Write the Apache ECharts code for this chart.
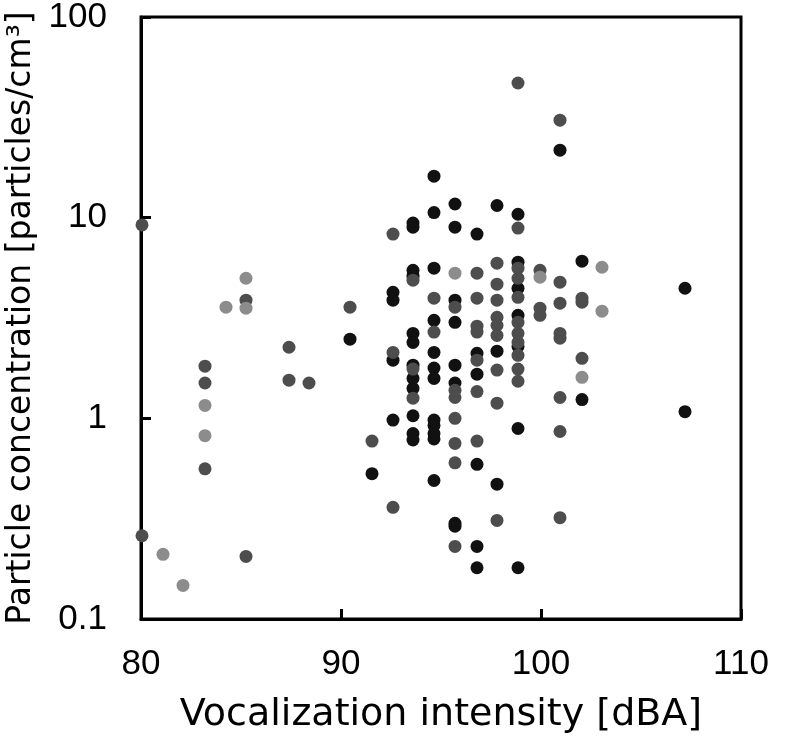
<!DOCTYPE html>
<html>
<head>
<meta charset="utf-8">
<script src="https://cdn.jsdelivr.net/npm/echarts@6/dist/echarts.min.js"></script>
<style>
html,body{margin:0;padding:0;background:#fff;}
#chart{width:799px;height:756px;}
</style>
</head>
<body>
<div id="chart"></div>
<script>
// Axis settings
var xTicks = [80, 90, 100, 110];
var yTicks = [0.1, 1, 10, 100];
var xTitle = 'Vocalization intensity [dBA]';
var yTitle = 'Particle concentration [particles/cm\u00B3]';

// Black points: [dBA, particles/cm3]
var blackX = [90.45, 91.55, 92.6, 92.6, 92.6, 92.6,
  93.6, 93.6, 93.6, 93.6, 93.6, 93.6, 93.6, 93.6, 93.6, 93.6, 93.6, 93.6,
  94.65, 94.65, 94.65, 94.65, 94.65, 94.65, 94.65, 94.65, 94.65, 94.65, 94.65, 94.65,
  95.7, 95.7, 95.7, 95.7, 95.7, 95.7, 95.7, 95.7,
  96.8, 96.8, 96.8, 96.8, 96.8, 96.8,
  97.8, 97.8, 97.8,
  98.85, 98.85, 98.85, 98.85, 98.85, 98.85, 98.85,
  100.95, 102.05, 102.05, 107.2, 107.2];
var blackY = [2.48, 0.53, 4.25, 3.88, 1.95, 0.98,
  9.4, 8.97, 5.47, 5.11, 2.65, 2.39, 1.84, 1.58, 1.41, 1.03, 0.84, 0.78,
  16.1, 10.6, 5.6, 3.08, 2.13, 1.78, 1.58, 0.98, 0.92, 0.84, 0.79, 0.49,
  11.7, 8.97, 3.88, 3.01, 1.84, 1.50, 0.30, 0.29,
  8.28, 2.11, 1.66, 0.59, 0.23, 0.18,
  11.5, 2.16, 0.47,
  10.4, 6.0, 4.45, 3.26, 2.28, 0.89, 0.18,
  21.7, 6.07, 1.24, 4.45, 1.08];

// Dark grey points
var darkX = [80.05, 80.05, 83.2, 83.2, 83.2, 85.25, 85.25, 87.4, 87.4, 88.4,
  90.45, 91.55, 92.6, 92.6, 92.6, 93.6, 93.6, 93.6,
  94.65, 94.65,
  95.7, 95.7, 95.7, 95.7, 95.7, 95.7, 95.7,
  96.8, 96.8, 96.8, 96.8, 96.8, 96.8, 96.8,
  97.8, 97.8, 97.8, 97.8, 97.8, 97.8, 97.8, 97.8, 97.8,
  98.85, 98.85, 98.85, 98.85, 98.85, 98.85, 98.85, 98.85, 98.85, 98.85, 98.85,
  99.95, 99.95, 99.95,
  100.95, 100.95, 100.95, 100.95, 100.95, 100.95, 100.95, 100.95,
  102.05, 102.05, 102.05];
var darkY = [9.2, 0.26, 1.82, 1.50, 0.56, 3.88, 0.205, 2.26, 1.55, 1.50,
  3.58, 0.77, 8.28, 2.13, 0.36, 4.88, 1.76, 1.26,
  3.97, 2.69,
  3.58, 1.38, 1.27, 1.0, 0.75, 0.60, 0.23,
  5.29, 3.97, 2.88, 2.69, 1.95, 1.36, 0.77,
  5.93, 4.66, 3.88, 3.19, 2.91, 2.59, 1.74, 1.19, 0.31,
  46.9, 8.87, 5.6, 4.99, 4.01, 3.01, 2.65, 2.39, 2.06, 1.76, 1.53,
  5.47, 3.54, 3.26,
  30.6, 4.77, 3.75, 2.65, 2.51, 1.27, 0.86, 0.32,
  3.97, 3.79, 1.99];

// Light grey points
var lightX = [81.1, 82.1, 83.2, 83.2, 84.25, 85.25, 85.25, 95.7, 99.95, 102.05, 103.05, 103.05];
var lightY = [0.21, 0.147, 1.16, 0.82, 3.58, 4.99, 3.54, 5.29, 5.05, 1.60, 5.66, 3.42];

function zip(xs, ys) { return xs.map(function (x, i) { return [x, ys[i]]; }); }

var chart = echarts.init(document.getElementById('chart'), null, {renderer: 'canvas'});
var tickFont = {color: '#000', fontSize: 35, fontFamily: 'Liberation Sans'};
chart.setOption({
  animation: false,
  backgroundColor: '#fff',
  grid: {left: 141, right: 58, top: 17, bottom: 137, outerBoundsMode: 'none', containLabel: false,
    show: true, borderColor: '#000', borderWidth: 3, backgroundColor: 'transparent'},
  xAxis: {
    type: 'value', min: xTicks[0], max: xTicks[xTicks.length - 1], interval: 10,
    name: xTitle, nameLocation: 'middle', nameGap: 77,
    nameTextStyle: {color: '#000', fontSize: 38, fontFamily: 'DejaVu Sans'},
    axisLine: {show: true, lineStyle: {color: '#000', width: 3}},
    axisTick: {show: true, inside: true, length: 10, lineStyle: {color: '#000', width: 3}},
    axisLabel: Object.assign({margin: 28}, tickFont),
    splitLine: {show: false}
  },
  yAxis: {
    type: 'log', logBase: 10, min: yTicks[0], max: yTicks[yTicks.length - 1],
    name: yTitle, nameLocation: 'middle', nameGap: 100,
    nameTextStyle: {color: '#000', fontSize: 33, fontFamily: 'DejaVu Sans'},
    axisLine: {show: true, lineStyle: {color: '#000', width: 3}},
    axisTick: {show: true, inside: true, length: 10, lineStyle: {color: '#000', width: 3}},
    axisLabel: Object.assign({margin: 34, formatter: function (v) { return String(+v.toPrecision(3)); }}, tickFont),
    splitLine: {show: false},
    minorTick: {show: false}
  },
  series: [
    {type: 'scatter', name: 'black', data: zip(blackX, blackY), symbolSize: 13, itemStyle: {color: '#111111', opacity: 1}, z: 3},
    {type: 'scatter', name: 'dark', data: zip(darkX, darkY), symbolSize: 13, itemStyle: {color: '#4d4d4d', opacity: 1}, z: 4},
    {type: 'scatter', name: 'light', data: zip(lightX, lightY), symbolSize: 13, itemStyle: {color: '#8c8c8c', opacity: 1}, z: 5}
  ]
});
</script>
</body>
</html>
